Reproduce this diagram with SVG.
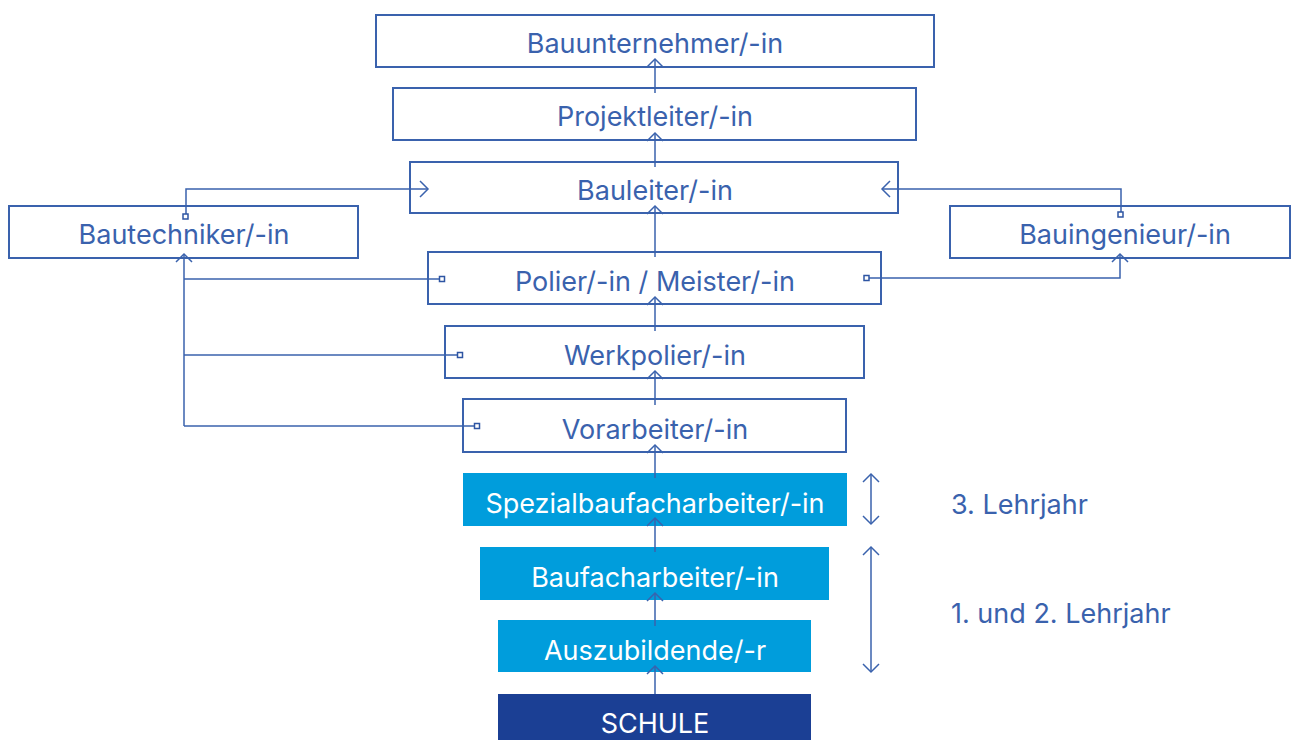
<svg xmlns="http://www.w3.org/2000/svg" width="1299" height="740" viewBox="0 0 1299 740">
<defs>
<style>
.box{fill:#fff;stroke:#3a62ad;stroke-width:2}
.fill1{fill:#009ddc}
.fill2{fill:#1b3f94}
.lbl{font-family:Inter,"Liberation Sans",sans-serif;font-size:27px;fill:#3a62ad;text-anchor:middle}
.wlbl{font-family:Inter,"Liberation Sans",sans-serif;font-size:27px;fill:#fff;text-anchor:middle}
.side{font-family:Inter,"Liberation Sans",sans-serif;font-size:27px;fill:#3a62ad}
.c{fill:none;stroke:#3a62ad;stroke-width:1.5}
.sq{fill:#fff;stroke:#2e55a3;stroke-width:1.5}
</style>
<marker id="ah" viewBox="0 0 20 20" refX="10" refY="10" markerWidth="20" markerHeight="20" markerUnits="userSpaceOnUse" orient="auto-start-reverse">
<path d="M2,2 L10,10 L2,18" fill="none" stroke="#3a62ad" stroke-width="1.5"/>
</marker>
</defs>
<rect width="1299" height="740" fill="#fff"/>
<g id="n-bauunternehmer"><rect class="box" x="376" y="15" width="558" height="52"/><text class="lbl" x="655" y="53">Bauunternehmer/-in</text></g>
<g id="n-projektleiter"><rect class="box" x="393" y="88" width="523" height="52"/><text class="lbl" x="655" y="126">Projektleiter/-in</text></g>
<g id="n-bauleiter"><rect class="box" x="410" y="162" width="488" height="51"/><text class="lbl" x="655" y="200">Bauleiter/-in</text></g>
<g id="n-bautechniker"><rect class="box" x="9" y="206" width="349" height="52"/><text class="lbl" x="184" y="244">Bautechniker/-in</text></g>
<g id="n-bauingenieur"><rect class="box" x="950" y="206" width="340" height="52"/><text class="lbl" x="1125" y="244">Bauingenieur/-in</text></g>
<g id="n-polier"><rect class="box" x="428" y="252" width="453" height="52"/><text class="lbl" x="655" y="291">Polier/-in / Meister/-in</text></g>
<g id="n-werkpolier"><rect class="box" x="445" y="326" width="419" height="52"/><text class="lbl" x="655" y="365">Werkpolier/-in</text></g>
<g id="n-vorarbeiter"><rect class="box" x="463" y="399" width="383" height="53"/><text class="lbl" x="655" y="439">Vorarbeiter/-in</text></g>
<g id="n-spezial"><rect class="fill1" x="463" y="473" width="384" height="53"/><text class="wlbl" x="655" y="513">Spezialbaufacharbeiter/-in</text></g>
<g id="n-baufach"><rect class="fill1" x="480" y="547" width="349" height="53"/><text class="wlbl" x="655" y="587">Baufacharbeiter/-in</text></g>
<g id="n-azubi"><rect class="fill1" x="498" y="620" width="313" height="52"/><text class="wlbl" x="655" y="660">Auszubildende/-r</text></g>
<g id="n-schule"><rect class="fill2" x="498" y="694" width="313" height="50"/><text class="wlbl" x="655" y="733">SCHULE</text></g>
<g id="connectors">
<line class="c" x1="655" y1="93" x2="655" y2="59" marker-end="url(#ah)"/>
<line class="c" x1="655" y1="167" x2="655" y2="133" marker-end="url(#ah)"/>
<line class="c" x1="655" y1="257" x2="655" y2="206" marker-end="url(#ah)"/>
<line class="c" x1="655" y1="331" x2="655" y2="297" marker-end="url(#ah)"/>
<line class="c" x1="655" y1="405" x2="655" y2="371" marker-end="url(#ah)"/>
<line class="c" x1="655" y1="478" x2="655" y2="445" marker-end="url(#ah)"/>
<line class="c" x1="655" y1="552" x2="655" y2="518" marker-end="url(#ah)"/>
<line class="c" x1="655" y1="626" x2="655" y2="593" marker-end="url(#ah)"/>
<line class="c" x1="655" y1="694" x2="655" y2="666" marker-end="url(#ah)"/>
<polyline class="c" points="186,215 186,189 428,189" marker-end="url(#ah)"/>
<polyline class="c" points="1121,213 1121,189 882,189" marker-end="url(#ah)"/>
<polyline class="c" points="867,278 1120,278 1120,254" marker-end="url(#ah)"/>
<polyline class="c" points="184,426 184,254" marker-end="url(#ah)"/>
<line class="c" x1="184" y1="279" x2="440" y2="279"/>
<line class="c" x1="184" y1="355" x2="458" y2="355"/>
<line class="c" x1="184" y1="426" x2="475" y2="426"/>
<rect class="sq" x="183" y="214" width="5" height="5"/>
<rect class="sq" x="1118" y="212" width="5" height="5"/>
<rect class="sq" x="864" y="275.5" width="5" height="5"/>
<rect class="sq" x="439.5" y="276.5" width="5" height="5"/>
<rect class="sq" x="457.5" y="352.5" width="5" height="5"/>
<rect class="sq" x="474.5" y="423.5" width="5" height="5"/>
<line class="c" x1="871" y1="474" x2="871" y2="524" marker-start="url(#ah)" marker-end="url(#ah)"/>
<line class="c" x1="871" y1="547" x2="871" y2="672" marker-start="url(#ah)" marker-end="url(#ah)"/>
</g>
<text class="side" x="951" y="514">3. Lehrjahr</text>
<text class="side" x="951" y="623">1. und 2. Lehrjahr</text>
</svg>
